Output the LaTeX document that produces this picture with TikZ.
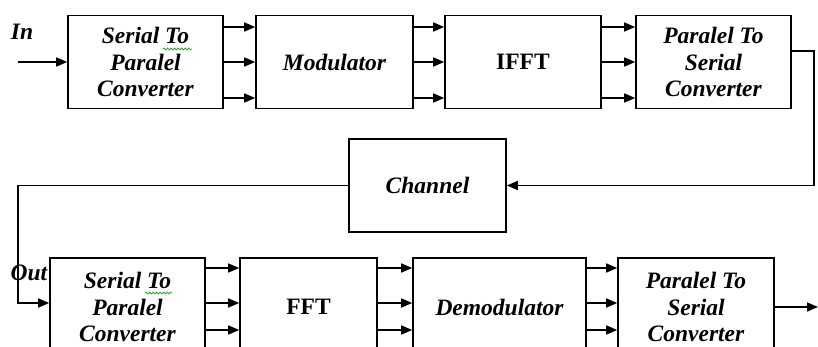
\documentclass[tikz,border=0pt]{standalone}
\usepackage{fontspec}
\setmainfont{Liberation Serif}
\usetikzlibrary{arrows.meta,decorations.pathmorphing}
\tikzset{
  blk/.style={draw, line width=1.6pt, inner sep=0pt, align=center, minimum height=93pt,
    font=\fontsize{23.5}{26.5}\selectfont\bfseries\itshape},
  upr/.style={font=\fontsize{23.5}{26.5}\selectfont\bfseries},
  arr/.style={line width=1.6pt, -{Triangle[length=11pt,width=9pt]}},
  lbl/.style={inner sep=0pt, font=\fontsize{23.5}{26}\selectfont\bfseries\itshape},
  squig/.style={draw=green!55!black!80, line width=0.8pt, decorate,
    decoration={snake, amplitude=1pt, segment length=3.5pt}}
}
\begin{document}
\begin{tikzpicture}[x=1pt,y=-1pt]
\useasboundingbox (0,0) rectangle (818,347);
% top row
\node[blk, minimum width=155pt] (tb1) at (145.5,62) {Serial To\\Paralel\\Converter};
\node[blk, minimum width=157pt] (tb2) at (334.5,62) {Modulator};
\node[blk, upr, minimum width=156pt] (tb3) at (523,62) {IFFT};
\node[blk, minimum width=155pt] (tb4) at (713.5,62) {Paralel To\\Serial\\Converter};
% channel
\node[blk, minimum width=157pt] (ch) at (427.5,185.5) {Channel};
% bottom row
\node[blk, minimum width=155pt, minimum height=98pt] (bb1) at (127.5,307) {Serial To\\Paralel\\Converter};
\node[blk, upr, minimum width=137pt, minimum height=98pt] (bb2) at (308.5,307) {FFT};
\node[blk, minimum width=173pt, minimum height=98pt] (bb3) at (499.5,307) {Demodulator};
\node[blk, minimum width=156pt, minimum height=98pt] (bb4) at (696,307) {Paralel To\\Serial\\Converter};
% labels
\node[lbl] (in) at (22,32) {In};
\node[lbl] (out) at (29,273) {Out};
% spell-check squiggles
\path[squig] (163,49) -- (192,49);
\path[squig] (145,293) -- (172,293);
% coordinates
\coordinate (inS) at (18,62);
\coordinate (r1) at (814,51);
\coordinate (l1) at (18,185.5);
\coordinate (outE) at (818,307);
% input
\draw[arr] (inS) -- (tb1.west);
% top arrows
\foreach \a/\b in {tb1/tb2, tb2/tb3, tb3/tb4}{
  \foreach \yy in {27,62,98}{
    \draw[arr] (\a.east |- 0,\yy) -- (\b.west |- 0,\yy);
  }
}
% to channel
\draw[arr] (tb4.east |- r1) -- (r1) |- (ch.east);
% channel to bottom
\draw[arr] (ch.west) -- (l1) |- (bb1.west |- 0,303);
% bottom arrows
\foreach \a/\b in {bb1/bb2, bb2/bb3, bb3/bb4}{
  \foreach \yy in {268,303,330}{
    \draw[arr] (\a.east |- 0,\yy) -- (\b.west |- 0,\yy);
  }
}
\draw[arr] (bb4.east |- outE) -- (outE);
\end{tikzpicture}
\end{document}
